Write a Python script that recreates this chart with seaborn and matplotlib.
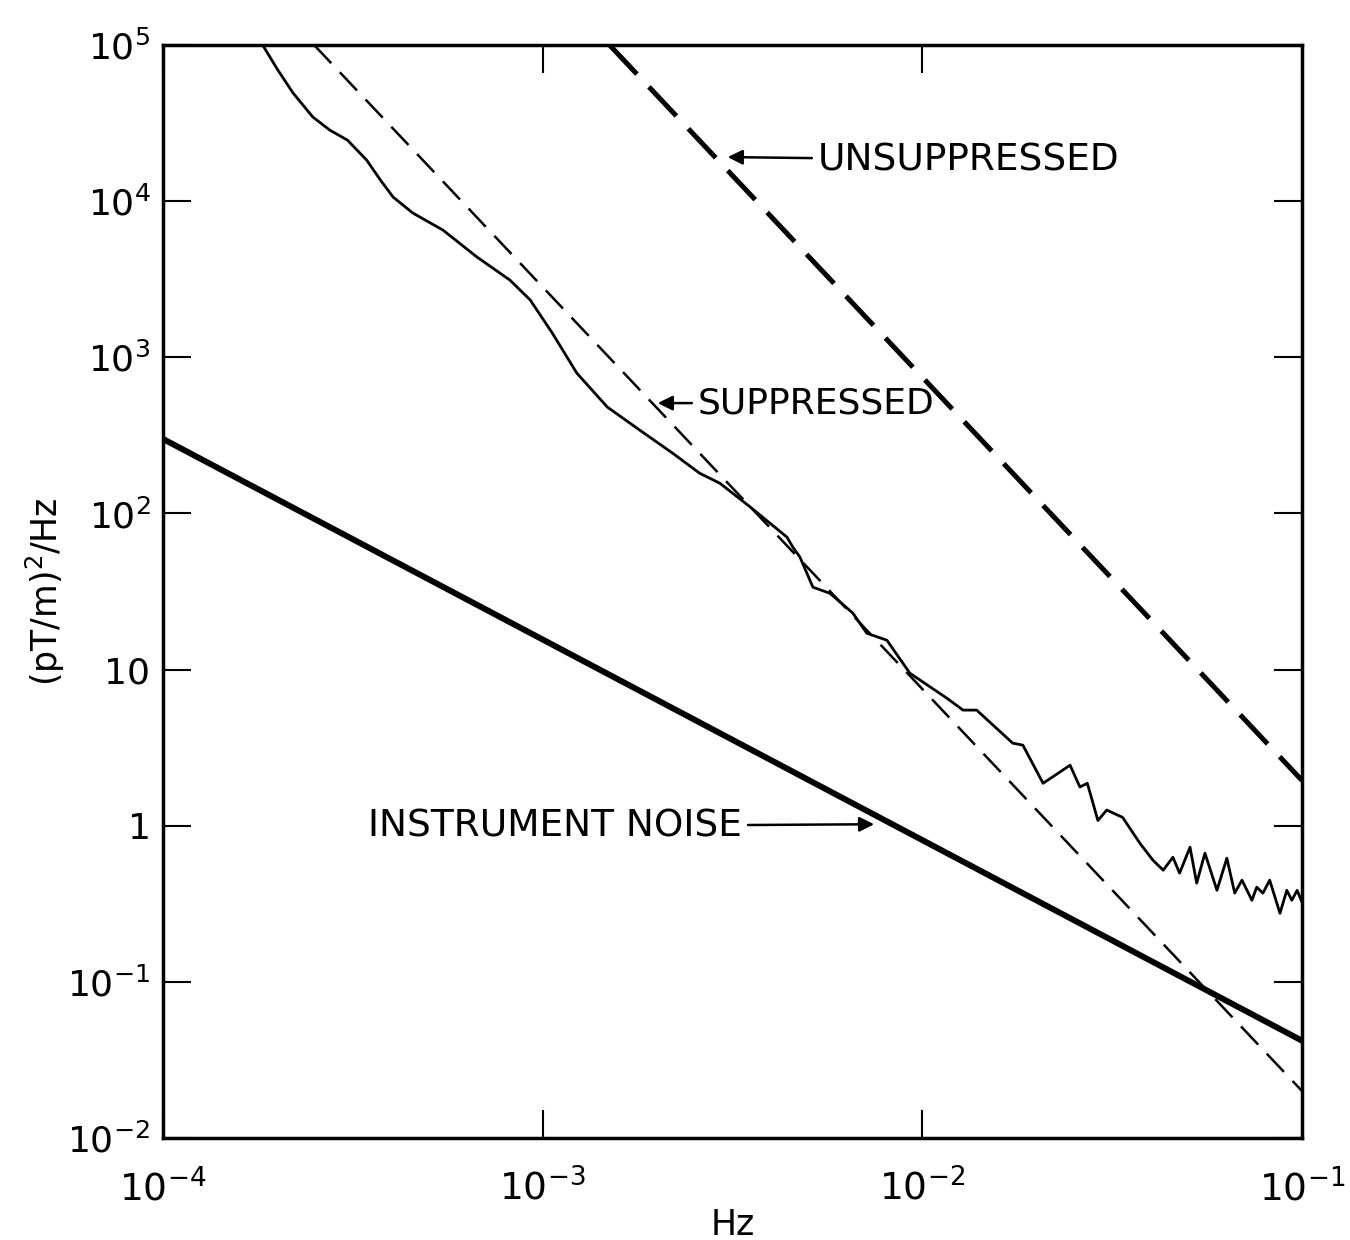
import matplotlib
matplotlib.use("Agg")
import matplotlib.pyplot as plt
import seaborn as sns
import pandas as pd
import numpy as np

# ---- data ----
noise_f = [1e-4, 1e-1]
noise_v = [300.0, 0.042]

supp_fit_f = [2.5e-4, 1e-1]
supp_fit_v = [1e5, 0.02]

unsupp_f = [1.5e-3, 1e-1]
unsupp_v = [1e5, 1.95]

meas_f = [1.83e-4, 2.00e-4, 2.20e-4, 2.48e-4, 2.75e-4, 3.06e-4, 3.44e-4, 3.75e-4,
          4.04e-4, 4.55e-4, 5.46e-4, 6.71e-4, 8.20e-4, 9.27e-4, 1.06e-3, 1.23e-3,
          1.48e-3, 1.80e-3, 2.20e-3, 2.59e-3, 2.93e-3, 3.52e-3, 4.40e-3, 4.56e-3,
          4.76e-3, 5.15e-3, 5.71e-3, 6.56e-3, 7.14e-3, 8.07e-3, 9.27e-3, 1.16e-2,
          1.28e-2, 1.39e-2, 1.73e-2, 1.84e-2, 2.08e-2, 2.45e-2, 2.60e-2, 2.72e-2,
          2.90e-2, 3.06e-2, 3.37e-2, 3.74e-2, 4.05e-2, 4.31e-2, 4.57e-2, 4.76e-2,
          5.07e-2, 5.28e-2, 5.55e-2, 5.97e-2, 6.34e-2, 6.65e-2, 6.95e-2, 7.38e-2,
          7.60e-2, 7.89e-2, 8.22e-2, 8.75e-2, 9.12e-2, 9.40e-2, 9.71e-2, 1.0e-1]
meas_v = [1.0e5, 7.0e4, 4.93e4, 3.46e4, 2.85e4, 2.46e4, 1.83e4, 1.35e4,
          1.06e4, 8.39e3, 6.53e3, 4.39e3, 3.12e3, 2.33e3, 1.43e3, 7.92e2,
          4.80e2, 3.42e2, 2.43e2, 1.81e2, 1.56e2, 1.10e2, 70.5, 60.8,
          52.5, 33.7, 30.8, 23.0, 17.1, 15.4, 9.48, 6.56,
          5.50, 5.50, 3.38, 3.28, 1.87, 2.44, 1.77, 1.87,
          1.08, 1.26, 1.13, 0.773, 0.601, 0.519, 0.628, 0.497,
          0.728, 0.429, 0.667, 0.386, 0.619, 0.370, 0.448, 0.333,
          0.404, 0.370, 0.448, 0.275, 0.386, 0.333, 0.386, 0.324]

xticks = [1e-4, 1e-3, 1e-2, 1e-1]
xticklabels = [r"$\mathregular{10^{-4}}$", r"$\mathregular{10^{-3}}$",
               r"$\mathregular{10^{-2}}$", r"$\mathregular{10^{-1}}$"]
yticks = [1e-2, 1e-1, 1, 10, 1e2, 1e3, 1e4, 1e5]
yticklabels = [r"$\mathregular{10^{-2}}$", r"$\mathregular{10^{-1}}$", "1", "10",
               r"$\mathregular{10^{2}}$", r"$\mathregular{10^{3}}$",
               r"$\mathregular{10^{4}}$", r"$\mathregular{10^{5}}$"]

# ---- plot ----
sns.set_style("ticks", {"text.color": "black", "axes.labelcolor": "black",
                        "xtick.color": "black", "ytick.color": "black",
                        "axes.edgecolor": "black"})
plt.rcParams["font.family"] = ["DejaVu Sans"]
plt.rcParams["mathtext.default"] = "regular"

fig = plt.figure(figsize=(13.5, 12.4), dpi=100)
ax = fig.add_axes([163 / 1350, 1 - 1138 / 1240, (1302 - 163) / 1350, (1138 - 45) / 1240])

sns.lineplot(x=noise_f, y=noise_v, ax=ax, color="black", lw=4.3)
sns.lineplot(x=meas_f, y=meas_v, ax=ax, color="black", lw=2.0)
l1 = sns.lineplot(x=supp_fit_f, y=supp_fit_v, ax=ax, color="black", lw=1.8).lines[-1]
l1.set_dashes((10, 5))
l2 = sns.lineplot(x=unsupp_f, y=unsupp_v, ax=ax, color="black", lw=3.6).lines[-1]
l2.set_dashes((8, 3.5))

ax.set_xscale("log")
ax.set_yscale("log")
ax.set_xlim(1e-4, 1e-1)
ax.set_ylim(1e-2, 1e5)
ax.set_xticks(xticks)
ax.set_xticklabels(xticklabels, fontsize=27)
ax.set_yticks(yticks)
ax.set_yticklabels(yticklabels, fontsize=26)
ax.minorticks_off()
ax.tick_params(which="major", direction="in", length=20, width=1.5,
               top=True, right=True, color="black")
ax.tick_params(axis="x", pad=22)
ax.tick_params(axis="y", pad=9)
for s in ax.spines.values():
    s.set_linewidth(2.5)
    s.set_color("black")

ax.set_xlabel("Hz", fontsize=25, labelpad=0)
ax.set_ylabel(r"$\mathregular{(pT/m)^2/Hz}$", fontsize=25, labelpad=0)

arrow = dict(arrowstyle="-|>", color="black", lw=1.8, mutation_scale=22)
ax.annotate("UNSUPPRESSED", xy=(10 ** (-4 + (725 - 163) / 379.7), 10 ** (5 - (157 - 45) / 156.1)),
            xytext=(10 ** (-4 + (818 - 163) / 379.7), 10 ** (5 - (160 - 45) / 156.1)),
            fontsize=27, va="center", ha="left", arrowprops=arrow)
ax.annotate("SUPPRESSED", xy=(10 ** (-4 + (655 - 163) / 379.7), 10 ** (5 - (403 - 45) / 156.1)),
            xytext=(10 ** (-4 + (698 - 163) / 379.7), 10 ** (5 - (403 - 45) / 156.1)),
            fontsize=26, va="center", ha="left", arrowprops=arrow)
ax.annotate("INSTRUMENT NOISE", xy=(10 ** (-4 + (877 - 163) / 379.7), 10 ** (5 - (824 - 45) / 156.1)),
            xytext=(10 ** (-4 + (742 - 163) / 379.7), 10 ** (5 - (826 - 45) / 156.1)),
            fontsize=27, va="center", ha="right", arrowprops=arrow)

fig.savefig("out.png", dpi=100, facecolor="white")
